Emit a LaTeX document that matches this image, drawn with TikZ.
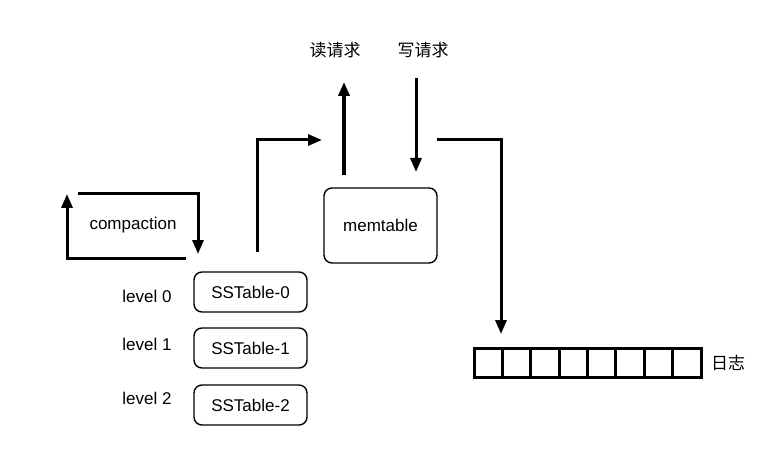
\documentclass[tikz,border=0pt]{standalone}
\usepackage{fontspec}
\setmainfont{Liberation Sans}
\newfontfamily\cjk{Noto Sans CJK SC}
\usetikzlibrary{arrows.meta}
\begin{document}
\begin{tikzpicture}[x=1pt,y=-1pt,
  lbl/.style={font=\fontsize{17}{19}\selectfont, inner sep=0pt},
  cjklbl/.style={font=\cjk\fontsize{17}{19}\selectfont, inner sep=0pt},
  tbox/.style={draw, line width=1.4pt, rounded corners=8pt, font=\fontsize{17}{19}\selectfont, inner sep=0pt},
  cell/.style={draw, line width=3pt, minimum width=28.375pt, minimum height=29pt, inner sep=0pt, outer sep=0pt},
  flow/.style={line width=3pt, -{Triangle[length=14pt,width=11pt]}},
]
\useasboundingbox (0,0) rectangle (768,457);

% nodes
\node[lbl] (comp) at (133,225) {compaction};
\node[lbl] (lv0) at (147,296) {level 0};
\node[lbl] (lv1) at (147,344) {level 1};
\node[lbl] (lv2) at (147,398) {level 2};
\node[tbox, minimum width=113pt, minimum height=40pt] (ss0) at (250.5,292) {SSTable-0};
\node[tbox, minimum width=113pt, minimum height=40pt] (ss1) at (250.5,348) {SSTable-1};
\node[tbox, minimum width=113pt, minimum height=40pt] (ss2) at (250.5,405) {SSTable-2};
\node[tbox, minimum width=113pt, minimum height=75pt] (mem) at (380.5,225.5) {memtable};
\node[cjklbl] (rd) at (335,50) {读请求};
\node[cjklbl] (wr) at (423,50) {写请求};
\foreach \i in {1,...,8} {
  \node[cell] (c\i) at ({474+28.375*(\i-0.5)},362.5) {};
}
\node[cjklbl] (log) at (728,363) {日志};

% coordinates for free ends
\coordinate (cpA) at (186,258);
\coordinate (cpB) at (67,258);
\coordinate (cpC) at (67,194);
\coordinate (cpD) at (78,194);
\coordinate (cpE) at (198,194);
\coordinate (cpF) at (198,254);
\coordinate (ssUp) at (257,252);
\coordinate (ssCorner) at (257,140);
\coordinate (ssTip) at (322,140);
\coordinate (rdS) at (344,175);
\coordinate (rdT) at (344,82);
\coordinate (wrS) at (416,78);
\coordinate (wrT) at (416,172);
\coordinate (lgS) at (437,140);
\coordinate (lgC) at (501,140);
\coordinate (lgT) at (501,334);

% connectors
\draw[flow] (cpA) -- (cpB) -- (cpC);
\draw[flow] (cpD) -- (cpE) -- (cpF);
\draw[flow] (ssUp) -- (ssCorner) -- (ssTip);
\draw[flow, line width=4.8pt] (rdS) -- (rdT);
\draw[flow] (wrS) -- (wrT);
\draw[flow] (lgS) -- (lgC) -- (lgT);
\end{tikzpicture}
\end{document}
